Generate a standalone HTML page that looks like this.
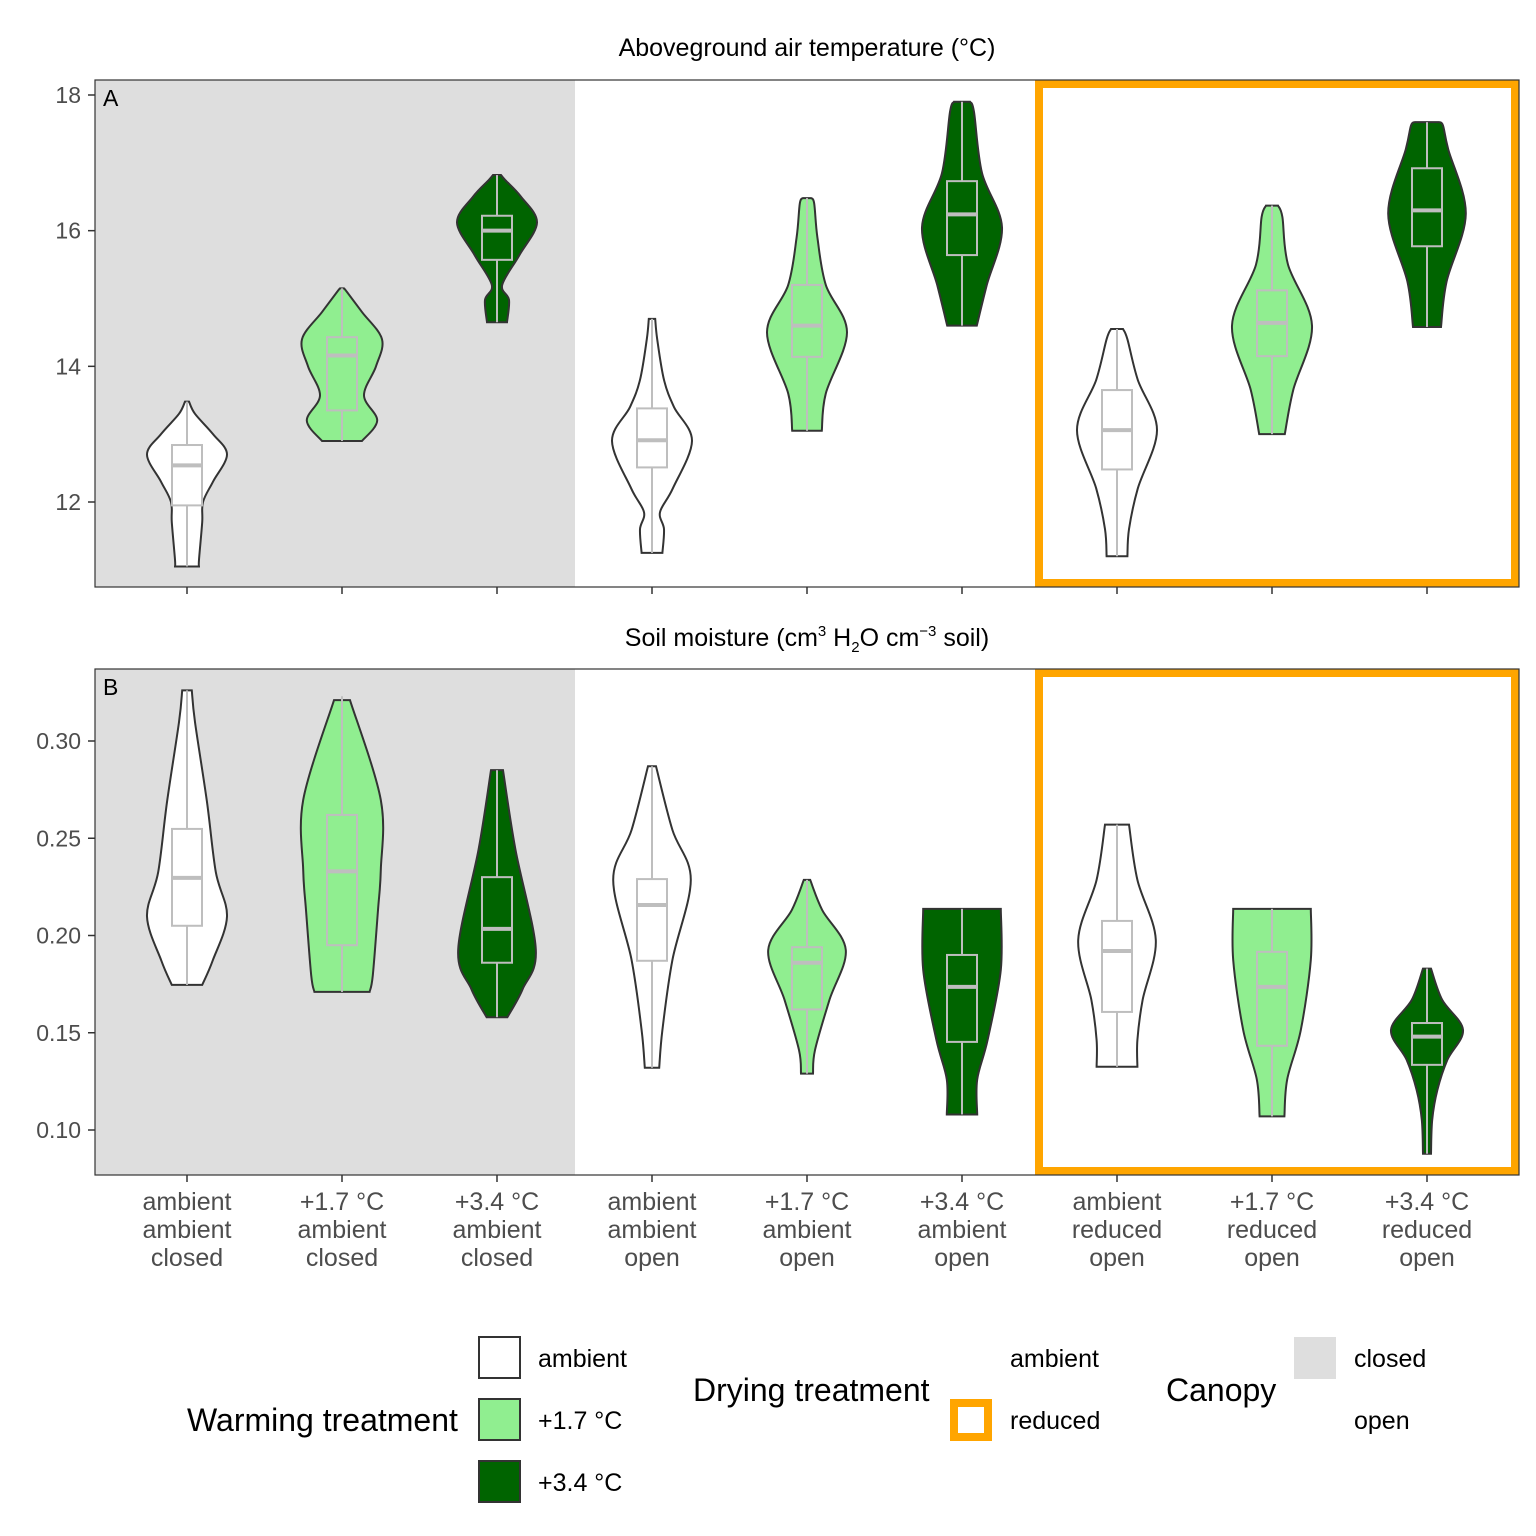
<!DOCTYPE html>
<html><head><meta charset="utf-8"><style>
body{margin:0;background:#fff;}
svg{display:block;font-family:"Liberation Sans",sans-serif;}
</style></head><body>
<svg id="chart" width="1536" height="1536" viewBox="0 0 1536 1536" style="position:absolute;left:0;top:0"></svg>
<script>
const categories=["ambient|ambient|closed","+1.7 °C|ambient|closed","+3.4 °C|ambient|closed","ambient|ambient|open","+1.7 °C|ambient|open","+3.4 °C|ambient|open","ambient|reduced|open","+1.7 °C|reduced|open","+3.4 °C|reduced|open"];
const warmFill=["#ffffff","#90ee90","#006400","#ffffff","#90ee90","#006400","#ffffff","#90ee90","#006400"];
const ticksA=[12,14,16,18];
const ticksB=[0.10,0.15,0.20,0.25,0.30];
// box stats: [min,q1,median,q3,max]
const boxA=[[11.05,11.95,12.54,12.84,13.48],[12.9,13.35,14.16,14.43,15.15],[14.65,15.57,16.0,16.22,16.82],[11.25,12.51,12.91,13.38,14.7],[13.05,14.14,14.6,15.2,16.48],[14.6,15.64,16.24,16.73,17.9],[11.2,12.48,13.06,13.65,14.55],[13.0,14.15,14.64,15.12,16.37],[14.58,15.77,16.3,16.92,17.6]];
const boxB=[[0.1746,0.205,0.2296,0.2548,0.326],[0.171,0.195,0.233,0.262,0.323],[0.158,0.186,0.2034,0.230,0.285],[0.132,0.187,0.2157,0.229,0.287],[0.129,0.162,0.186,0.194,0.2286],[0.108,0.1453,0.1736,0.190,0.2137],[0.1325,0.1607,0.192,0.2075,0.257],[0.107,0.1433,0.1736,0.1916,0.2137],[0.0878,0.1335,0.148,0.155,0.183]];
// density profiles: [value, relative density]
const densA=[
[[11.05,0.3],[11.15,0.3],[11.7,0.38],[12.0,0.4],[12.3,0.65],[12.7,1],[13.0,0.65],[13.3,0.2],[13.48,0.05]],
[[12.9,0.5],[13.2,0.88],[13.57,0.55],[14.0,0.85],[14.4,1],[14.8,0.5],[15.1,0.12],[15.15,0.05]],
[[14.65,0.25],[14.98,0.3],[15.2,0.13],[15.64,0.56],[16.12,1],[16.5,0.6],[16.75,0.2],[16.82,0.1]],
[[11.25,0.26],[11.6,0.3],[11.85,0.2],[12.2,0.52],[12.9,1],[13.4,0.55],[13.8,0.3],[14.4,0.13],[14.7,0.08]],
[[13.05,0.37],[13.6,0.47],[14.5,1],[15.2,0.47],[15.9,0.26],[16.4,0.18],[16.48,0.1]],
[[14.6,0.37],[15.2,0.62],[16.05,1],[16.85,0.5],[17.75,0.3],[17.9,0.2]],
[[11.2,0.26],[11.6,0.3],[12.2,0.52],[13.06,1],[13.8,0.52],[14.4,0.26],[14.55,0.15]],
[[13.0,0.32],[13.65,0.53],[14.6,1],[15.5,0.4],[16.2,0.26],[16.37,0.15]],
[[14.58,0.35],[15.25,0.49],[16.25,0.97],[17.2,0.53],[17.55,0.4],[17.6,0.3]]];
const densB=[
[[0.1746,0.38],[0.187,0.64],[0.2098,1],[0.2326,0.72],[0.2686,0.5],[0.3097,0.2],[0.326,0.12]],
[[0.171,0.69],[0.1795,0.77],[0.2131,0.9],[0.2337,0.97],[0.2697,0.97],[0.321,0.2]],
[[0.158,0.26],[0.1724,0.64],[0.1929,0.97],[0.2443,0.46],[0.285,0.15]],
[[0.132,0.18],[0.1514,0.26],[0.1874,0.51],[0.2286,0.97],[0.2543,0.51],[0.287,0.1]],
[[0.129,0.15],[0.1411,0.2],[0.1668,0.56],[0.1925,0.97],[0.2131,0.38],[0.2286,0.08]],
[[0.108,0.38],[0.126,0.38],[0.1463,0.64],[0.1823,0.97],[0.2137,0.97]],
[[0.1325,0.51],[0.1463,0.51],[0.1668,0.64],[0.1977,0.97],[0.2286,0.51],[0.257,0.3]],
[[0.107,0.31],[0.126,0.38],[0.1514,0.72],[0.1874,0.97],[0.2137,0.97]],
[[0.0878,0.1],[0.1052,0.13],[0.1206,0.26],[0.1361,0.51],[0.1515,0.9],[0.1669,0.38],[0.183,0.1]]];

const NS="http://www.w3.org/2000/svg";
const svg=document.getElementById('chart');
function mk(tag,attrs,parent){const e=document.createElementNS(NS,tag);for(const k in attrs)e.setAttribute(k,attrs[k]);(parent||svg).appendChild(e);return e;}
const X0=95,X1=1519;
const xPos=i=>187+i*155;
const panels=[
 {top:80,bot:587,v0:18,p0:95,v1:12,p1:502,ticks:ticksA,fmt:v=>String(v),box:boxA,dens:densA,letter:"A",name:"panel-a"},
 {top:669,bot:1175,v0:0.30,p0:741,v1:0.10,p1:1130,ticks:ticksB,fmt:v=>v.toFixed(2),box:boxB,dens:densB,letter:"B",name:"panel-b"}];
function smooth(pts){let d="M"+pts[0][0]+","+pts[0][1];for(let i=0;i<pts.length-1;i++){const p0=pts[Math.max(0,i-1)],p1=pts[i],p2=pts[i+1],p3=pts[Math.min(pts.length-1,i+2)];const c1=[p1[0]+(p2[0]-p0[0])/6,p1[1]+(p2[1]-p0[1])/6],c2=[p2[0]-(p3[0]-p1[0])/6,p2[1]-(p3[1]-p1[1])/6];d+=" C"+c1+" "+c2+" "+p2;}return d;}
panels.forEach(P=>{
 const y=v=>P.p0+(v-P.v0)*(P.p1-P.p0)/(P.v1-P.v0);
 const g=mk('g',{});
 const bg=mk('rect',{x:X0,y:P.top,width:575-X0,height:P.bot-P.top,fill:'#dedede'},g);
 const ob=mk('rect',{x:1039,y:P.top+4,width:1515-1039,height:P.bot-P.top-8,fill:'none',stroke:'#ffa500','stroke-width':8},g);
 P.ticks.forEach(t=>{const ty=y(t);mk('line',{x1:X0-7,x2:X0,y1:ty,y2:ty,stroke:'#333','stroke-width':1.5},g);const tx=mk('text',{x:X0-14,y:ty+8,'text-anchor':'end','font-size':23,fill:'#4d4d4d'},g);tx.textContent=P.fmt(t);});
 categories.forEach((c,i)=>{const cx=xPos(i);
  mk('line',{x1:cx,x2:cx,y1:P.bot,y2:P.bot+7,stroke:'#333','stroke-width':1.5},g);
  const d=P.dens[i];const W=40;
  const right=d.map(p=>[cx+p[1]*W,y(p[0])]);const left=d.slice().reverse().map(p=>[cx-p[1]*W,y(p[0])]);
  const l=d[d.length-1];
  let path=smooth(right)+" L"+(cx-l[1]*W)+","+y(l[0])+" "+smooth(left).slice(1).replace(/^[^C]*/,'')+" Z";
  const vp=mk('path',{d:path,fill:warmFill[i],stroke:'#333','stroke-width':2},g);
  const b=P.box[i];
  mk('line',{x1:cx,x2:cx,y1:y(b[0]),y2:y(b[1]),stroke:'#bebebe','stroke-width':2},g);
  mk('line',{x1:cx,x2:cx,y1:y(b[3]),y2:y(b[4]),stroke:'#bebebe','stroke-width':2},g);
  const br=mk('rect',{x:cx-15,y:y(b[3]),width:30,height:y(b[1])-y(b[3]),fill:'none',stroke:'#bebebe','stroke-width':2},g);
  mk('line',{x1:cx-15,x2:cx+15,y1:y(b[2]),y2:y(b[2]),stroke:'#bebebe','stroke-width':4},g);
 });
 mk('rect',{x:X0,y:P.top,width:X1-X0,height:P.bot-P.top,fill:'none',stroke:'#333','stroke-width':1.2},g);
 const lt=mk('text',{x:103,y:P.top+26,'font-size':23,fill:'#000'},g);lt.textContent=P.letter;
});
categories.forEach((c,i)=>{c.split('|').forEach((s,k)=>{const t=mk('text',{x:xPos(i),y:1210+k*28,'text-anchor':'middle','font-size':25,fill:'#4d4d4d'});t.textContent=s;});});
</script>
<svg width="1536" height="1536" style="position:absolute;left:0;top:0;pointer-events:none">
<text x="807" y="56" text-anchor="middle" font-size="25">Aboveground air temperature (°C)</text>
<text x="807" y="646" text-anchor="middle" font-size="25">Soil moisture (cm<tspan dy="-10" font-size="15">3</tspan><tspan dy="10"> H</tspan><tspan dy="6" font-size="15">2</tspan><tspan dy="-6">O cm</tspan><tspan dy="-10" font-size="15">−3</tspan><tspan dy="10"> soil)</tspan></text>
<g font-size="25">
<text x="187" y="1431" font-size="32">Warming treatment</text>
<rect x="479" y="1337" width="41" height="41" fill="#fff" stroke="#333" stroke-width="2"/>
<rect x="479" y="1399" width="41" height="41" fill="#90ee90" stroke="#333" stroke-width="2"/>
<rect x="479" y="1461" width="41" height="41" fill="#006400" stroke="#333" stroke-width="2"/>
<text x="538" y="1367">ambient</text>
<text x="538" y="1429">+1.7 °C</text>
<text x="538" y="1491">+3.4 °C</text>
<text x="693" y="1401" font-size="32">Drying treatment</text>
<rect x="954" y="1403" width="34" height="34" fill="none" stroke="#ffa500" stroke-width="8"/>
<text x="1010" y="1367">ambient</text>
<text x="1010" y="1429">reduced</text>
<text x="1166" y="1401" font-size="32">Canopy</text>
<rect x="1294" y="1337" width="42" height="42" fill="#dedede"/>
<text x="1354" y="1367">closed</text>
<text x="1354" y="1429">open</text>
</g>
</svg>
</body></html>
